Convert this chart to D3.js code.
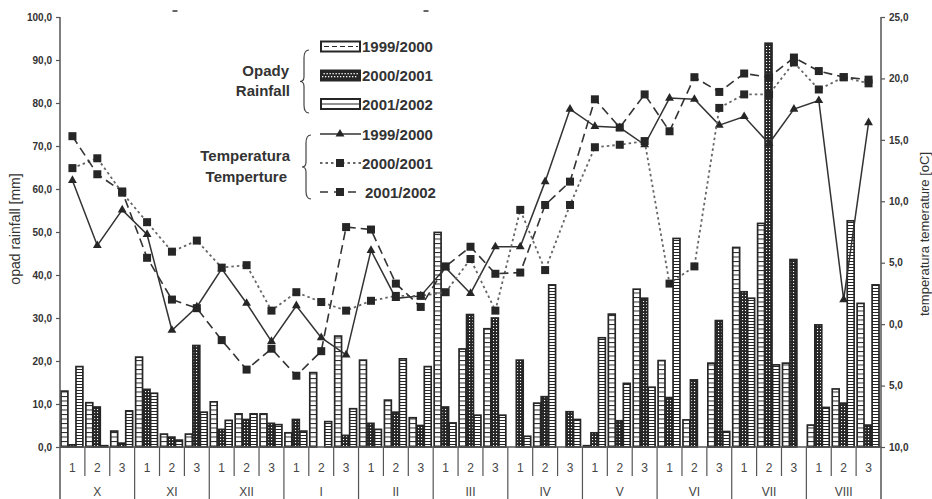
<!DOCTYPE html>
<html>
<head>
<meta charset="utf-8">
<script src="https://cdn.jsdelivr.net/npm/d3@7"></script>
<style>
  body { margin: 0; background: #fff; }
  svg { display: block; font-family: "Liberation Sans", Arial, sans-serif; }
</style>
</head>
<body>
<svg id="chart" width="932" height="499"></svg>
<script>
// Categories
var months = ["X", "XI", "XII", "I", "II", "III", "IV", "V", "VI", "VII", "VIII"];
var decades = ["1", "2", "3"];
var seasons = ["1999/2000", "2000/2001", "2001/2002"];

// Rainfall per decade [mm]
var rain1999 = [13.0, 10.3, 3.7, 20.9, 3.0, 3.0, 10.5, 7.7, 7.7, 3.3, 17.3, 25.8, 20.2, 10.9, 6.8,
  49.9, 22.8, 27.5, 0, 10.2, 0, 0.3, 30.9, 36.7, 20.1, 6.3, 19.5, 46.4, 52.0, 19.5, 5.1, 13.5, 33.4];
var rain2000 = [0.5, 9.3, 0.9, 13.4, 2.3, 23.6, 4.1, 6.4, 5.5, 6.4, 0, 2.7, 5.5, 8.1, 5.0,
  9.3, 30.8, 30.0, 20.2, 11.7, 8.2, 3.3, 6.1, 34.6, 11.5, 15.6, 29.4, 36.1, 93.9, 43.6, 28.4, 10.2, 5.1];
var rain2001 = [18.7, 0.3, 8.4, 12.5, 1.6, 8.1, 6.2, 7.7, 5.2, 3.7, 5.9, 8.9, 4.1, 20.5, 18.7,
  5.6, 7.4, 7.4, 2.5, 37.7, 6.4, 25.4, 14.8, 13.9, 48.5, 0, 3.6, 34.6, 19.1, 0, 9.2, 52.6, 37.7];

// Temperature per decade [oC]
var temp1999 = [11.7, 6.4, 9.3, 7.3, -0.5, 1.4, 4.5, 1.7, -1.4, 1.5, -1.1, -2.5, 6.0, 2.1, 2.3,
  4.6, 2.5, 6.3, 6.3, 11.6, 17.5, 16.1, 16.0, 14.6, 18.4, 18.3, 16.2, 16.9, 14.7, 17.5, 18.2, 2.0, 16.4];
var temp2000 = [12.7, 13.5, 10.7, 8.3, 5.9, 6.8, 4.6, 4.8, 1.1, 2.6, 1.8, 1.1, 1.9, 2.3, 2.3,
  2.6, 5.3, 1.1, 9.3, 4.4, 9.7, 14.4, 14.6, 14.9, 3.3, 4.7, 17.6, 18.7, 18.7, 21.3, 19.1, 20.1, 19.6];
var temp2001 = [15.3, 12.2, 10.8, 5.4, 2.0, 1.3, -1.3, -3.7, -2.0, -4.2, -2.2, 7.9, 7.7, 3.3, 1.4,
  4.7, 6.3, 4.1, 4.2, 9.7, 11.6, 18.3, 16.0, 18.7, 15.7, 20.1, 18.9, 20.4, 20.1, 21.7, 20.6, 20.1, 19.9];

// Tick values and labels
var rainTicks = [0, 10, 20, 30, 40, 50, 60, 70, 80, 90, 100];
var tempTicks = [-10, -5, 0, 5, 10, 15, 20, 25];
var tempTickLabels = ["10,0", "5,0", "0,0", "5,0", "10,0", "15,0", "20,0", "25,0"];

var ink = "#262626";
var svg = d3.select("#chart");

// Patterns for the bars
var defs = svg.append("defs");
var p1 = defs.append("pattern").attr("id", "p1999").attr("patternUnits", "userSpaceOnUse")
  .attr("width", 8).attr("height", 4.5);
p1.append("rect").attr("width", 8).attr("height", 4.5).attr("fill", "#fff");
p1.append("rect").attr("width", 8).attr("height", 1).attr("fill", ink);

var p2 = defs.append("pattern").attr("id", "p2000").attr("patternUnits", "userSpaceOnUse")
  .attr("width", 3).attr("height", 3);
p2.append("rect").attr("width", 3).attr("height", 3).attr("fill", ink);
p2.append("rect").attr("x", 1).attr("y", 1).attr("width", 1.1).attr("height", 1.1).attr("fill", "#fff");

var p3 = defs.append("pattern").attr("id", "p2001").attr("patternUnits", "userSpaceOnUse")
  .attr("width", 8).attr("height", 3);
p3.append("rect").attr("width", 8).attr("height", 3).attr("fill", "#fff");
p3.append("rect").attr("width", 8).attr("height", 1).attr("fill", ink);

// Scales
var index = d3.range(months.length * decades.length);
var x = d3.scaleBand().domain(index).range([60, 881]);
var xs = d3.scaleBand().domain([0, 1, 2]).range([1, x.bandwidth() - 2]).paddingInner(0.08);
var y = d3.scaleLinear().domain([0, 100]).range([447, 17]);
var yT = d3.scaleLinear().domain([-10, 25]).range([447, 17]);

// Bars (zero decades are skipped, index kept with each value)
var rainSeries = [rain1999, rain2000, rain2001];
var fills = ["url(#p1999)", "url(#p2000)", "url(#p2001)"];
rainSeries.forEach(function(values, s) {
  var rows = values.map(function(v, i) { return { i: i, v: v }; })
    .filter(function(d) { return d.v > 0; });
  svg.append("g").selectAll("rect")
    .data(rows)
    .enter().append("rect")
    .attr("x", function(d) { return x(d.i) + xs(s); })
    .attr("y", function(d) { return y(d.v); })
    .attr("width", xs.bandwidth())
    .attr("height", function(d) { return y(0) - y(d.v); })
    .attr("fill", fills[s])
    .attr("stroke", ink)
    .attr("stroke-width", 1.7);
});

// Temperature lines
var line = d3.line()
  .x(function(d, i) { return x(i) + x.bandwidth() / 2; })
  .y(function(d) { return yT(d); });

var tempSeries = [
  { values: temp1999, dash: null, width: 1.5, color: "#333", marker: "tri" },
  { values: temp2000, dash: "2.5,3", width: 1.8, color: "#666", marker: "sq" },
  { values: temp2001, dash: "9,5", width: 1.6, color: "#333", marker: "sq" }
];

function drawMarker(g, kind, cx, cy) {
  if (kind === "tri") {
    g.append("path")
      .attr("d", d3.symbol(d3.symbolTriangle, 34)())
      .attr("transform", "translate(" + cx + "," + cy + ")")
      .attr("fill", ink);
  } else {
    g.append("rect")
      .attr("x", cx - 4).attr("y", cy - 4)
      .attr("width", 8).attr("height", 8)
      .attr("fill", ink);
  }
}

tempSeries.forEach(function(s) {
  var g = svg.append("g");
  g.append("path")
    .attr("d", line(s.values))
    .attr("fill", "none")
    .attr("stroke", s.color)
    .attr("stroke-width", s.width)
    .attr("stroke-dasharray", s.dash);
  s.values.forEach(function(d, i) {
    drawMarker(g, s.marker, x(i) + x.bandwidth() / 2, yT(d));
  });
});

// Axes
var fmt = function(d) { return d.toFixed(1).replace(".", ","); };
var left = svg.append("g").attr("transform", "translate(60,0)")
  .call(d3.axisLeft(y).tickValues(rainTicks).tickFormat(fmt).tickSize(4).tickPadding(4));
var right = svg.append("g").attr("transform", "translate(881,0)")
  .call(d3.axisRight(yT).tickValues(tempTicks)
    .tickFormat(function(d, i) { return tempTickLabels[i]; }).tickSize(4).tickPadding(4));

[left, right].forEach(function(a) {
  a.select(".domain").remove();
  a.selectAll("line").attr("stroke", "#555").attr("stroke-width", 1.2);
  a.selectAll("text").attr("fill", "#333").attr("font-size", 10).attr("font-weight", "bold")
    .attr("font-family", "Liberation Sans, Arial, sans-serif");
});

// Axis lines, extended to the bottom
var axisLines = svg.append("g").attr("stroke", "#555").attr("stroke-width", 1.5);
axisLines.append("line").attr("x1", 60).attr("x2", 60).attr("y1", y(100)).attr("y2", 499);
axisLines.append("line").attr("x1", 881).attr("x2", 881).attr("y1", y(100)).attr("y2", 499);
axisLines.append("line").attr("x1", 60).attr("x2", 881).attr("y1", y(0)).attr("y2", y(0));

// Decade separators and month separators
index.forEach(function(i) {
  if (i === 0) return;
  var isMonth = i % 3 === 0;
  svg.append("line")
    .attr("x1", x(i)).attr("x2", x(i))
    .attr("y1", y(0)).attr("y2", isMonth ? 499 : 476)
    .attr("stroke", "#555").attr("stroke-width", 1.2);
});

// Decade labels
svg.append("g").selectAll("text")
  .data(index)
  .enter().append("text")
  .attr("x", function(i) { return x(i) + x.bandwidth() / 2; })
  .attr("y", 472)
  .attr("text-anchor", "middle")
  .attr("font-size", 12)
  .attr("fill", "#444")
  .text(function(i) { return decades[i % 3]; });

// Month labels
svg.append("g").selectAll("text")
  .data(months)
  .enter().append("text")
  .attr("x", function(d, m) { return x(m * 3) + x.bandwidth() * 1.5; })
  .attr("y", 496)
  .attr("text-anchor", "middle")
  .attr("font-size", 12)
  .attr("fill", "#444")
  .text(function(d) { return d; });

// Axis titles
svg.append("text")
  .attr("transform", "translate(20,229) rotate(-90)")
  .attr("text-anchor", "middle")
  .attr("font-size", 14)
  .attr("fill", "#333")
  .text("opad rainfall [mm]");
svg.append("text")
  .attr("transform", "translate(929,234) rotate(-90)")
  .attr("text-anchor", "middle")
  .attr("font-size", 13)
  .attr("fill", "#333")
  .text("temperatura temerature [oC]");

// Small stray marks at the top
[175, 426].forEach(function(mx) {
  svg.append("line").attr("x1", mx - 2.5).attr("x2", mx + 2.5).attr("y1", 11).attr("y2", 11)
    .attr("stroke", "#333").attr("stroke-width", 1.5);
});

// Legend
var legend = svg.append("g").attr("font-weight", "bold").attr("fill", "#333").attr("font-size", 15);

function brace(x0, y0, y1) {
  var m = (y0 + y1) / 2, w = 5;
  return "M" + (x0 + w) + "," + y0 +
    " Q" + x0 + "," + y0 + " " + x0 + "," + (y0 + 8) +
    " L" + x0 + "," + (m - 5) +
    " Q" + x0 + "," + m + " " + (x0 - w + 1) + "," + m +
    " Q" + x0 + "," + m + " " + x0 + "," + (m + 5) +
    " L" + x0 + "," + (y1 - 8) +
    " Q" + x0 + "," + y1 + " " + (x0 + w) + "," + y1;
}
legend.append("path").attr("d", brace(304, 50, 113)).attr("fill", "none").attr("stroke", "#444").attr("stroke-width", 1.2);
legend.append("path").attr("d", brace(306, 135, 199)).attr("fill", "none").attr("stroke", "#444").attr("stroke-width", 1.2);

legend.append("text").attr("x", 289).attr("y", 76).attr("text-anchor", "end").text("Opady");
legend.append("text").attr("x", 290).attr("y", 96).attr("text-anchor", "end").text("Rainfall");
legend.append("text").attr("x", 290).attr("y", 161).attr("text-anchor", "end").text("Temperatura");
legend.append("text").attr("x", 287).attr("y", 182).attr("text-anchor", "end").text("Temperture");

// Rainfall swatches
var swatchY = [46.5, 75.5, 104];
seasons.forEach(function(name, s) {
  var cy = swatchY[s];
  legend.append("rect")
    .attr("x", 321).attr("y", cy - 5).attr("width", 39).attr("height", 10)
    .attr("fill", s === 1 ? ink : "#fff")
    .attr("stroke", ink).attr("stroke-width", 2);
  if (s === 0) {
    legend.append("line").attr("x1", 324).attr("x2", 358).attr("y1", cy).attr("y2", cy)
      .attr("stroke", ink).attr("stroke-width", 1.2).attr("stroke-dasharray", "5,3");
  } else if (s === 1) {
    d3.range(12).forEach(function(k) {
      legend.append("rect").attr("x", 323.5 + k * 3).attr("y", cy - 2.5).attr("width", 1.3).attr("height", 1.3).attr("fill", "#fff");
      legend.append("rect").attr("x", 322 + k * 3).attr("y", cy + 0.5).attr("width", 1.3).attr("height", 1.3).attr("fill", "#fff");
    });
  } else {
    legend.append("line").attr("x1", 322).attr("x2", 359).attr("y1", cy).attr("y2", cy)
      .attr("stroke", ink).attr("stroke-width", 1.2);
  }
  legend.append("text").attr("x", 362).attr("y", cy + 5.5).text(name);
});

// Temperature line samples
var lineY = [134, 163, 192];
tempSeries.forEach(function(s, k) {
  var cy = lineY[k];
  legend.append("line")
    .attr("x1", 320).attr("x2", k === 2 ? 357 : 361).attr("y1", cy).attr("y2", cy)
    .attr("stroke", s.color).attr("stroke-width", s.width)
    .attr("stroke-dasharray", k === 2 ? "8,6" : s.dash);
  drawMarker(legend, s.marker, 340, cy);
  legend.append("text").attr("x", k === 2 ? 365 : 362).attr("y", cy + 5.5).text(seasons[k]);
});
</script>
</body>
</html>
